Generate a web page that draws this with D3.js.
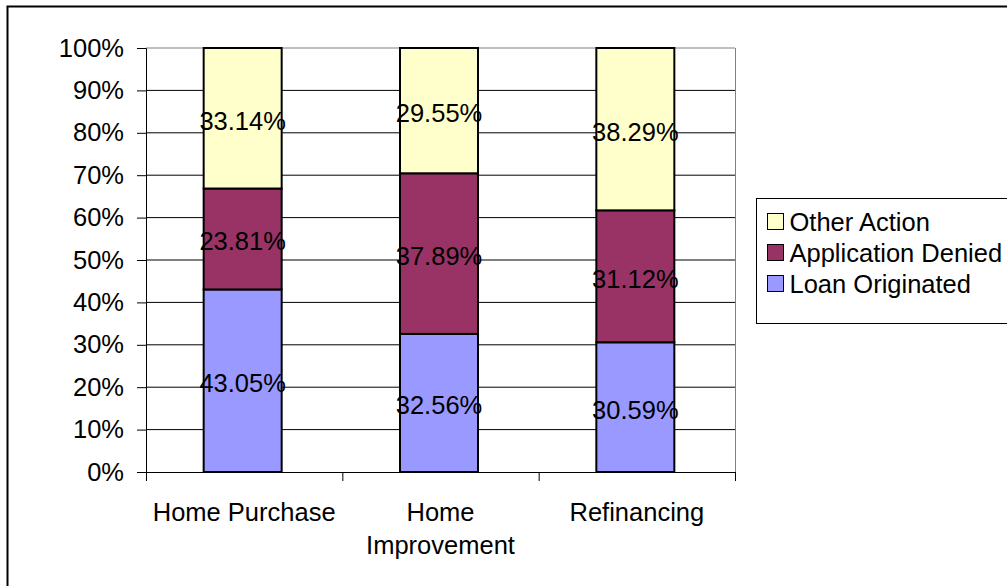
<!DOCTYPE html>
<html>
<head>
<meta charset="utf-8">
<script src="https://cdn.jsdelivr.net/npm/d3@7"></script>
<style>
  html, body { margin: 0; padding: 0; background: #fff; }
  svg { display: block; }
  text { font-family: "Liberation Sans", Arial, sans-serif; fill: #000; }
</style>
</head>
<body>
<svg id="chart" width="1007" height="586"></svg>
<script>
// Loan application outcomes by purpose, as shares of all applications (%)
const categories = ["Home Purchase", "Home Improvement", "Refinancing"];
const categoryLines = [["Home Purchase"], ["Home", "Improvement"], ["Refinancing"]];
const seriesNames = ["Loan Originated", "Application Denied", "Other Action"];
const loanOriginated = [43.05, 32.56, 30.59];
const applicationDenied = [23.81, 37.89, 31.12];
const otherAction = [33.14, 29.55, 38.29];
const yTicks = [0, 10, 20, 30, 40, 50, 60, 70, 80, 90, 100];
const colors = ["#9999FF", "#993366", "#FFFFCC"];

const rows = categories.map((c, i) => ({
  category: c,
  "Loan Originated": loanOriginated[i],
  "Application Denied": applicationDenied[i],
  "Other Action": otherAction[i]
}));

const svg = d3.select("#chart");
const W = 1007, H = 586;
const plot = { left: 146, right: 735, top: 48, bottom: 472 };
const fontSize = 25.5;

// outer chart frame
svg.append("rect")
  .attr("x", 7.5).attr("y", 6.5)
  .attr("width", W + 10).attr("height", H + 10)
  .attr("fill", "#fff").attr("stroke", "#000").attr("stroke-width", 2);

const x = d3.scaleBand().domain(categories).range([plot.left, plot.right]).paddingInner(0).paddingOuter(0);
const y = d3.scaleLinear().domain([0, 100]).range([plot.bottom, plot.top]);

// horizontal gridlines
svg.append("g").selectAll("line").data(yTicks.filter(t => t > 0)).join("line")
  .attr("x1", plot.left).attr("x2", plot.right)
  .attr("y1", d => y(d)).attr("y2", d => y(d))
  .attr("stroke", d => d === 100 ? "#808080" : "#000").attr("stroke-width", 1);

// right edge of the plot area
svg.append("line")
  .attr("x1", plot.right + 0.5).attr("x2", plot.right + 0.5)
  .attr("y1", plot.top).attr("y2", plot.bottom)
  .attr("stroke", "#808080");

// stacked bars
const stack = d3.stack().keys(seriesNames);
const layers = stack(rows);
const barW = 78;
const barShift = -1.5;
const layerG = svg.append("g").selectAll("g").data(layers).join("g")
  .attr("fill", (d, i) => colors[i]);

layerG.selectAll("rect").data(d => d).join("rect")
  .attr("x", d => x(d.data.category) + (x.bandwidth() - barW) / 2 + barShift)
  .attr("width", barW)
  .attr("y", d => y(d[1]))
  .attr("height", d => y(d[0]) - y(d[1]))
  .attr("stroke", "#000").attr("stroke-width", 2);

// segment value labels
layerG.selectAll("text").data(d => d.map(v => ({ v, key: d.key }))).join("text")
  .attr("x", d => x(d.v.data.category) + x.bandwidth() / 2 + barShift)
  .attr("y", d => y((d.v[0] + d.v[1]) / 2))
  .attr("dy", "0.45em")
  .attr("text-anchor", "middle")
  .attr("font-size", fontSize)
  .attr("fill", "#000")
  .text(d => d.v.data[d.key].toFixed(2) + "%");

// y axis
const yAxis = d3.axisLeft(y).tickValues(yTicks).tickFormat(d => d + "%").tickSize(9).tickPadding(13);
const yg = svg.append("g").attr("transform", `translate(${plot.left},0)`).call(yAxis);
yg.select(".domain").attr("stroke", "#000");
yg.selectAll("text").attr("font-size", fontSize).attr("font-family", null);

// x axis: ticks at category boundaries
const bounds = categories.map(c => x(c)).concat([plot.right]);
svg.append("line")
  .attr("x1", plot.left).attr("x2", plot.right + 1)
  .attr("y1", plot.bottom + 0.5).attr("y2", plot.bottom + 0.5)
  .attr("stroke", "#000");
svg.append("g").selectAll("line").data(bounds).join("line")
  .attr("x1", d => d + 0.5).attr("x2", d => d + 0.5)
  .attr("y1", plot.bottom).attr("y2", plot.bottom + 9)
  .attr("stroke", "#000");

svg.append("g").selectAll("text").data(categories).join("text")
  .attr("x", d => x(d) + x.bandwidth() / 2)
  .attr("y", 521)
  .attr("text-anchor", "middle")
  .attr("font-size", fontSize)
  .each(function (d, i) {
    d3.select(this).selectAll("tspan").data(categoryLines[i]).join("tspan")
      .attr("x", x(d) + x.bandwidth() / 2)
      .attr("dy", (t, j) => j === 0 ? 0 : 33)
      .text(t => t);
  });

// legend
const legend = svg.append("g").attr("transform", "translate(756.5,198.5)");
legend.append("rect").attr("width", 270).attr("height", 125)
  .attr("fill", "#fff").attr("stroke", "#000").attr("stroke-width", 1);
const legendOrder = seriesNames.slice().reverse();
const li = legend.selectAll("g").data(legendOrder).join("g")
  .attr("transform", (d, i) => `translate(0,${23 + i * 31})`);
li.append("rect").attr("x", 11).attr("y", -8).attr("width", 16).attr("height", 16)
  .attr("fill", d => colors[seriesNames.indexOf(d)]).attr("stroke", "#000").attr("stroke-width", 1);
li.append("text").attr("x", 33).attr("dy", "0.36em").attr("font-size", fontSize).text(d => d);
</script>
</body>
</html>
